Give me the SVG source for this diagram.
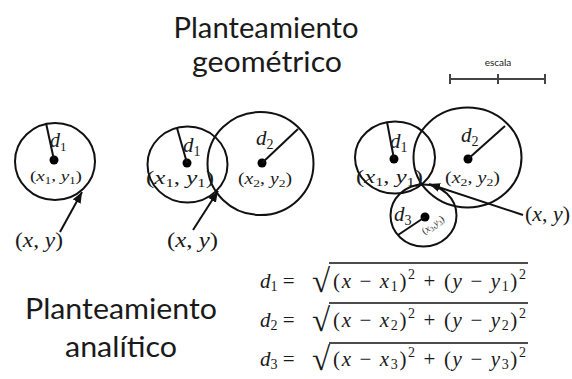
<svg xmlns="http://www.w3.org/2000/svg" width="572" height="379" viewBox="0 0 572 379">
<style>
.t{font-family:Lato,"Open Sans",sans-serif;fill:#1a1a1a}
.m{font-family:"Liberation Serif",serif;fill:#1a1a1a}
.i{font-style:italic}
.c{fill:none;stroke:#111;stroke-width:2}
.l{stroke:#111;stroke-width:2}
.d{fill:#000}
.sc{stroke:#444;stroke-width:2}
.v{stroke:#111;stroke-width:1.5}
</style>
<defs>
<marker id="ah" markerUnits="userSpaceOnUse" markerWidth="12" markerHeight="10" refX="11" refY="4.5" orient="auto">
<path d="M0,0 L11,4.5 L0,9 z" fill="#111"/>
</marker>
</defs>
<g id="titles">
<text class="t" x="266" y="38" font-size="29" text-anchor="middle" textLength="185" lengthAdjust="spacingAndGlyphs">Planteamiento</text>
<text class="t" x="267" y="72" font-size="29" text-anchor="middle" textLength="150" lengthAdjust="spacingAndGlyphs">geométrico</text>
<text class="t" x="121" y="319" font-size="29" text-anchor="middle" textLength="192" lengthAdjust="spacingAndGlyphs">Planteamiento</text>
<text class="t" x="121" y="357" font-size="29" text-anchor="middle" textLength="112" lengthAdjust="spacingAndGlyphs">analítico</text>
</g>
<g id="escala">
<text class="t" x="498" y="66" font-size="10" text-anchor="middle">escala</text>
<line class="sc" x1="450" y1="79" x2="545" y2="79"/>
<line class="sc" x1="450" y1="74" x2="450" y2="84"/>
<line class="sc" x1="498" y1="74" x2="498" y2="84"/>
<line class="sc" x1="545" y1="74" x2="545" y2="84"/>
</g>
<g id="caso1">
<ellipse class="c" cx="55" cy="161.5" rx="40" ry="38.5"/>
<circle class="d" cx="54" cy="160" r="4.5"/>
<line class="l" x1="54" y1="160" x2="46" y2="123"/>
<text class="m i" x="50" y="147" font-size="20">d<tspan font-style="normal" font-size="13" dy="4">1</tspan></text>
<text class="m" x="30" y="181" font-size="15" textLength="52" lengthAdjust="spacingAndGlyphs">(<tspan class="i">x</tspan><tspan font-size="10" dy="3">1</tspan><tspan dy="-3">, </tspan><tspan class="i">y</tspan><tspan font-size="10" dy="3">1</tspan><tspan dy="-3">)</tspan></text>
<text class="m" x="15" y="247" font-size="21" textLength="48" lengthAdjust="spacingAndGlyphs">(<tspan class="i">x</tspan>, <tspan class="i">y</tspan>)</text>
</g>
<g id="caso2">
<ellipse class="c" cx="187.5" cy="164.5" rx="40" ry="38"/>
<ellipse class="c" cx="260.5" cy="163.5" rx="53" ry="51.5"/>
<circle class="d" cx="187" cy="163" r="4.5"/>
<circle class="d" cx="262" cy="163" r="4.5"/>
<line class="l" x1="187" y1="163" x2="177" y2="128"/>
<line class="l" x1="262" y1="163" x2="298" y2="129"/>
<text class="m i" x="183" y="152" font-size="21">d<tspan font-style="normal" font-size="14" dy="4">1</tspan></text>
<text class="m i" x="256" y="145" font-size="21">d<tspan font-style="normal" font-size="14" dy="4">2</tspan></text>
<text class="m" x="146" y="184" font-size="18" textLength="68" lengthAdjust="spacingAndGlyphs">(<tspan class="i">x</tspan><tspan font-size="12" dy="3">1</tspan><tspan dy="-3">, </tspan><tspan class="i">y</tspan><tspan font-size="12" dy="3">1</tspan><tspan dy="-3">)</tspan></text>
<text class="m" x="238" y="184" font-size="16" textLength="54" lengthAdjust="spacingAndGlyphs">(<tspan class="i">x</tspan><tspan font-size="11" dy="3">2</tspan><tspan dy="-3">, </tspan><tspan class="i">y</tspan><tspan font-size="11" dy="3">2</tspan><tspan dy="-3">)</tspan></text>
<text class="m" x="167" y="247" font-size="21" textLength="51" lengthAdjust="spacingAndGlyphs">(<tspan class="i">x</tspan>, <tspan class="i">y</tspan>)</text>
</g>
<g id="caso3">
<ellipse class="c" cx="395" cy="157.5" rx="40" ry="36"/>
<ellipse class="c" cx="467.5" cy="157.5" rx="54" ry="50"/>
<ellipse class="c" cx="423.5" cy="215.5" rx="33" ry="31"/>
<circle class="d" cx="394" cy="159" r="4.5"/>
<circle class="d" cx="468" cy="159" r="4.5"/>
<circle class="d" cx="425" cy="217" r="4.5"/>
<line class="l" x1="394" y1="159" x2="387" y2="122"/>
<line class="l" x1="468" y1="159" x2="505" y2="126"/>
<line class="l" x1="425" y1="217" x2="398" y2="235"/>
<text class="m i" x="390" y="148" font-size="21">d<tspan font-style="normal" font-size="14" dy="4">1</tspan></text>
<text class="m i" x="461" y="142" font-size="21">d<tspan font-style="normal" font-size="14" dy="4">2</tspan></text>
<text class="m i" x="394" y="221" font-size="21">d<tspan font-style="normal" font-size="14" dy="4">3</tspan></text>
<text class="m" x="356" y="183" font-size="18" textLength="67" lengthAdjust="spacingAndGlyphs">(<tspan class="i">x</tspan><tspan font-size="12" dy="3">1</tspan><tspan dy="-3">, </tspan><tspan class="i">y</tspan><tspan font-size="12" dy="3">1</tspan><tspan dy="-3">)</tspan></text>
<text class="m" x="445" y="183" font-size="16" textLength="55" lengthAdjust="spacingAndGlyphs">(<tspan class="i">x</tspan><tspan font-size="11" dy="3">2</tspan><tspan dy="-3">, </tspan><tspan class="i">y</tspan><tspan font-size="11" dy="3">2</tspan><tspan dy="-3">)</tspan></text>
<text class="m" x="433" y="228" font-size="10" text-anchor="middle" transform="rotate(-35 433 225)">(<tspan class="i">x</tspan><tspan font-size="7" dy="2">3</tspan><tspan dy="-2">,</tspan><tspan class="i">y</tspan><tspan font-size="7" dy="2">3</tspan><tspan dy="-2">)</tspan></text>
<text class="m" x="525" y="221" font-size="21" textLength="45" lengthAdjust="spacingAndGlyphs">(<tspan class="i">x</tspan>, <tspan class="i">y</tspan>)</text>
</g>
<g id="conectores">
<line class="l" x1="60" y1="232" x2="82" y2="192" marker-end="url(#ah)"/>
<line class="l" x1="193" y1="230" x2="218" y2="191" marker-end="url(#ah)"/>
<line class="l" x1="523" y1="215" x2="429" y2="184" marker-end="url(#ah)"/>
</g>
<g id="formulas">
<text class="m" x="260" y="288" font-size="21"><tspan class="i">d</tspan><tspan font-size="14" dy="3">1</tspan><tspan dy="-3"> =</tspan></text>
<text class="m" x="312" y="292" font-size="33">√</text>
<line class="v" x1="329" y1="263" x2="528" y2="263"/>
<text class="m" x="333" y="288" font-size="21" textLength="193" lengthAdjust="spacing">(<tspan class="i">x</tspan> − <tspan class="i">x</tspan><tspan font-size="14" dy="3">1</tspan><tspan dy="-3">)</tspan><tspan font-size="14" dy="-9">2</tspan><tspan dy="9"> + (</tspan><tspan class="i">y</tspan> − <tspan class="i">y</tspan><tspan font-size="14" dy="3">1</tspan><tspan dy="-3">)</tspan><tspan font-size="14" dy="-9">2</tspan></text>
<text class="m" x="260" y="327" font-size="21"><tspan class="i">d</tspan><tspan font-size="14" dy="3">2</tspan><tspan dy="-3"> =</tspan></text>
<text class="m" x="312" y="331" font-size="33">√</text>
<line class="v" x1="329" y1="303" x2="528" y2="303"/>
<text class="m" x="333" y="327" font-size="21" textLength="193" lengthAdjust="spacing">(<tspan class="i">x</tspan> − <tspan class="i">x</tspan><tspan font-size="14" dy="3">2</tspan><tspan dy="-3">)</tspan><tspan font-size="14" dy="-9">2</tspan><tspan dy="9"> + (</tspan><tspan class="i">y</tspan> − <tspan class="i">y</tspan><tspan font-size="14" dy="3">2</tspan><tspan dy="-3">)</tspan><tspan font-size="14" dy="-9">2</tspan></text>
<text class="m" x="260" y="366" font-size="21"><tspan class="i">d</tspan><tspan font-size="14" dy="3">3</tspan><tspan dy="-3"> =</tspan></text>
<text class="m" x="312" y="370" font-size="33">√</text>
<line class="v" x1="329" y1="343" x2="528" y2="343"/>
<text class="m" x="333" y="366" font-size="21" textLength="193" lengthAdjust="spacing">(<tspan class="i">x</tspan> − <tspan class="i">x</tspan><tspan font-size="14" dy="3">3</tspan><tspan dy="-3">)</tspan><tspan font-size="14" dy="-9">2</tspan><tspan dy="9"> + (</tspan><tspan class="i">y</tspan> − <tspan class="i">y</tspan><tspan font-size="14" dy="3">3</tspan><tspan dy="-3">)</tspan><tspan font-size="14" dy="-9">2</tspan></text>
</g>
</svg>
